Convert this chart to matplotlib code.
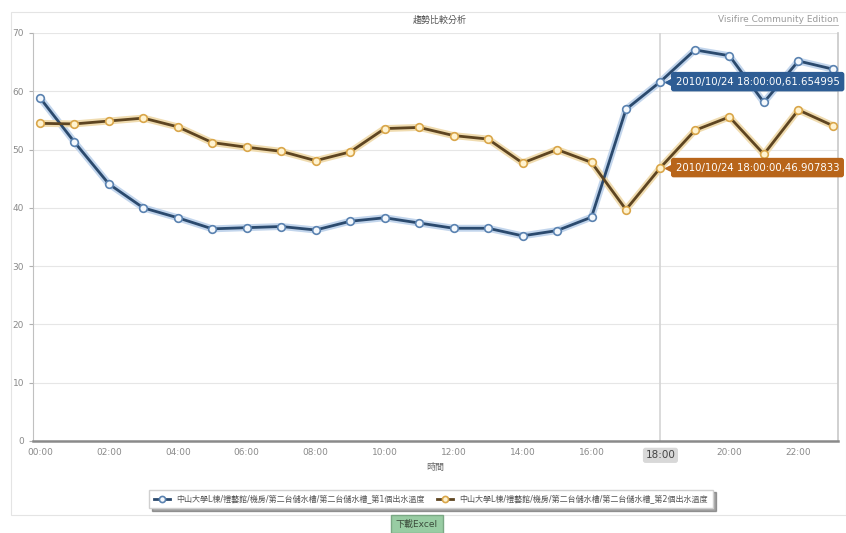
import matplotlib.pyplot as plt
from matplotlib.lines import Line2D
from matplotlib.patches import Rectangle
from matplotlib.transforms import offset_copy

plt.rcParams['font.family'] = ['DejaVu Sans', 'Noto Sans CJK TC']

# hourly readings, 2010/10/24
hours = list(range(24))
tick_labels = ["%02d:00" % h for h in hours]
series1_name = "中山大學L棟/禮藝館/機房/第二台儲水槽/第二台儲水槽_第1個出水溫度"
series2_name = "中山大學L棟/禮藝館/機房/第二台儲水槽/第二台儲水槽_第2個出水溫度"
temp1 = [58.9, 51.3, 44.1, 40.0, 38.3, 36.4, 36.6, 36.8, 36.2, 37.7, 38.3, 37.4,
         36.5, 36.5, 35.2, 36.1, 38.4, 56.9, 61.654995, 67.1, 66.1, 58.1, 65.2, 63.8]
temp2 = [54.5, 54.4, 54.9, 55.4, 53.9, 51.2, 50.4, 49.7, 48.1, 49.6, 53.6, 53.8,
         52.4, 51.8, 47.7, 50.0, 47.8, 39.7, 46.907833, 53.3, 55.6, 49.2, 56.8, 54.1]
highlight = 18

fig = plt.figure(figsize=(8.46, 5.33), dpi=100)
fig.patch.set_facecolor("white")

# outer panel
fig.add_artist(Rectangle((11 / 846, 18 / 533), 835 / 846, 503 / 533,
                         transform=fig.transFigure, fill=False,
                         edgecolor="#e4e4e4", linewidth=0.8))

ax = fig.add_axes([33 / 846, 92 / 533, 805 / 846, 408 / 533])
ax.set_xlim(-0.2, 23.15)
ax.set_ylim(0, 70)

ax.set_yticks(range(0, 71, 10))
ax.yaxis.grid(True, color="#e6e6e6", linewidth=0.8)
ax.set_axisbelow(True)
ax.set_xticks(hours[::2])
# the highlighted hour gets its own label below
ax.set_xticklabels(["" if h == highlight else tick_labels[h] for h in hours[::2]])
ax.tick_params(axis="both", labelsize=6.5, labelcolor="#8a8a8a", color="#b0b0b0", length=3)
ax.tick_params(axis="x", length=0, pad=5)

ax.spines["top"].set_visible(False)
ax.spines["left"].set_color("#c0c0c0")
ax.spines["right"].set_color("#c8c8c8")
ax.spines["right"].set_linewidth(1.2)
ax.spines["bottom"].set_color("#8a8a8a")
ax.spines["bottom"].set_linewidth(1.8)

ax.axvline(highlight, color="#d4d4d4", linewidth=1.2, zorder=1)

# soft glow under the lines
ax.plot(hours, temp1, color="#c2d5ec", linewidth=5, solid_capstyle="round", zorder=2)
ax.plot(hours, temp2, color="#f0dcb0", linewidth=5, solid_capstyle="round", zorder=2)
ax.plot(hours, temp1, color="#2b4a6e", linewidth=2.0, marker="o", markersize=5.5,
        markerfacecolor="#f4f8fc", markeredgecolor="#5a82b0", markeredgewidth=1.2,
        label=series1_name, zorder=3)
ax.plot(hours, temp2, color="#5e4521", linewidth=2.0, marker="o", markersize=5.5,
        markerfacecolor="#fff3d0", markeredgecolor="#d9a64a", markeredgewidth=1.2,
        label=series2_name, zorder=3)

# tooltips at highlighted hour
for vals, col in [(temp1, "#2e5d94"), (temp2, "#b8651a")]:
    v = vals[highlight]
    ax.annotate("2010/10/24 18:00:00,%.6f" % v, xy=(highlight, v), xytext=(11, 0),
                textcoords="offset points", va="center", ha="left", fontsize=7.3,
                color="white", annotation_clip=False, zorder=6,
                bbox=dict(boxstyle="round,pad=0.4,rounding_size=0.2", fc=col, ec=col))
    tri = offset_copy(ax.transData, fig=fig, x=7, y=0, units="points")
    ax.plot([highlight], [v], marker="<", markersize=7, color=col, transform=tri,
            clip_on=False, zorder=6)

ax.text(highlight, -1.6, "18:00", transform=ax.transData, ha="center", va="top",
        fontsize=7.5, color="#444444",
        bbox=dict(boxstyle="round,pad=0.25", fc="#d8d8d8", ec="none"))

ax.set_xlabel("時間", fontsize=6.5, color="#666666", labelpad=4)

fig.text(440 / 846, 1 - 20 / 533, "趨勢比較分析", ha="center", va="center",
         fontsize=6.5, color="#555555")
fig.text(838 / 846, 1 - 19 / 533, "Visifire Community Edition", ha="right", va="center",
         fontsize=6.5, color="#9a9a9a")
fig.add_artist(Line2D([745 / 846, 838 / 846], [1 - 25 / 533, 1 - 25 / 533],
                      transform=fig.transFigure, color="#b0b0b0", linewidth=0.6))

leg = fig.legend(loc="center", bbox_to_anchor=(431 / 846, 1 - 499 / 533), ncol=2,
                 fontsize=5.8, frameon=True, shadow=True, fancybox=False,
                 handlelength=2.0, columnspacing=1.5, borderpad=0.6, markerscale=0.8)
leg.get_frame().set_edgecolor("#d0d0d0")
for t in leg.get_texts():
    t.set_color("#555555")

fig.text(417 / 846, 1 - 524 / 533, "下載Excel", ha="center", va="center", fontsize=6.5,
         color="#3a4a3a",
         bbox=dict(boxstyle="square,pad=0.5", fc="#98cca3", ec="#7aa884"))

fig.savefig("out.png", dpi=100)
